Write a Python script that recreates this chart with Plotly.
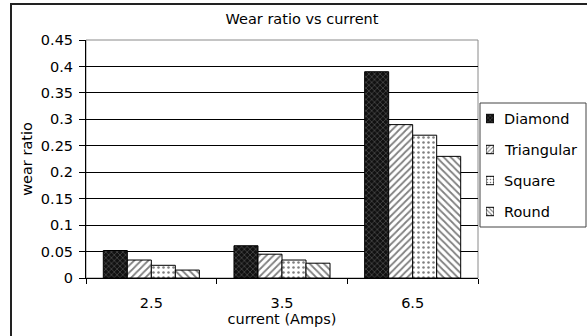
import plotly.graph_objects as go

# Wear ratio by tool shape at each current setting
currents = ["2.5", "3.5", "6.5"]
shape_names = ["Diamond", "Triangular", "Square", "Round"]
diamond = [0.052, 0.061, 0.39]
triangular = [0.034, 0.045, 0.29]
square = [0.024, 0.034, 0.27]
round_ = [0.015, 0.028, 0.23]
y_ticks = [0, 0.05, 0.1, 0.15, 0.2, 0.25, 0.3, 0.35, 0.4, 0.45]
y_tick_text = ["0", "0.05", "0.1", "0.15", "0.2", "0.25", "0.3", "0.35", "0.4", "0.45"]

series = [diamond, triangular, square, round_]
patterns = [
    dict(shape="x", fgcolor="#9a9a9a", bgcolor="#111111", size=4, solidity=0.3),
    dict(shape="/", fgcolor="black", bgcolor="white", size=5, solidity=0.35),
    dict(shape=".", fgcolor="black", bgcolor="white", size=5, solidity=0.2),
    dict(shape="\\", fgcolor="black", bgcolor="white", size=5, solidity=0.35),
]

FONT = "DejaVu Sans, Arial, sans-serif"
FS = 14.5

W, H = 587, 336
ML, MT, MB = 86, 40, 58
PW = W - ML            # paper width (right margin 0)
PLOT_R = 478           # right edge of the bar plot area, px
LEG_L, LEG_R, LEG_T, LEG_B = 480, 586, 103, 227


def px_x(px):
    return (px - ML) / PW


def px_y(py):
    return (H - MB - py) / (H - MT - MB)


fig = go.Figure()
for name, vals, pat in zip(shape_names, series, patterns):
    fig.add_trace(go.Bar(
        x=currents, y=vals, name=name, showlegend=False,
        marker=dict(color="white", pattern=pat,
                    line=dict(color="black", width=1)),
        xaxis="x", yaxis="y",
    ))

# legend key swatches: one small patterned bar per series on a helper axis
for name, pat in zip(shape_names, patterns):
    fig.add_trace(go.Bar(
        y=[name], x=[1], orientation="h", width=0.27, offset=-0.135,
        marker=dict(color="white", pattern=dict(pat, size=3),
                    line=dict(color="black", width=1)),
        showlegend=False, hoverinfo="skip", xaxis="x2", yaxis="y2",
    ))

fig.update_layout(
    width=W, height=H,
    margin=dict(l=ML, r=0, t=MT, b=MB, autoexpand=False),
    paper_bgcolor="white", plot_bgcolor="white",
    barmode="group", bargap=0.265, bargroupgap=0,
    font=dict(family=FONT, size=FS, color="black"),
    showlegend=False,
    title=dict(text="Wear ratio vs current", xref="container", x=302 / W,
               xanchor="center", yref="container", y=1 - 19 / H,
               yanchor="middle", font=dict(size=FS)),
    xaxis=dict(
        domain=[0, px_x(PLOT_R)],
        type="category", showline=True, linecolor="black", linewidth=1,
        ticks="outside", tickson="boundaries", ticklen=5, tickcolor="black",
        showgrid=False, ticklabelstandoff=12,
        title=dict(text="current (Amps)", standoff=3, font=dict(size=FS)),
        tickfont=dict(size=FS),
    ),
    yaxis=dict(
        range=[0, 0.45], tickvals=y_ticks, ticktext=y_tick_text,
        showline=True, linecolor="black", linewidth=1,
        ticks="outside", ticklen=6, tickcolor="black", ticklabelstandoff=3,
        showgrid=True, gridcolor="black", gridwidth=1, zeroline=False,
        title=dict(text="wear ratio", standoff=4, font=dict(size=FS)),
        tickfont=dict(size=FS),
    ),
    xaxis2=dict(
        domain=[px_x(486), px_x(494)], range=[0, 1], anchor="y2",
        visible=False, fixedrange=True,
    ),
    yaxis2=dict(
        domain=[px_y(LEG_B), px_y(LEG_T)], anchor="x2", type="category",
        categoryorder="array", categoryarray=shape_names[::-1],
        range=[-0.5, 3.5], visible=False, fixedrange=True,
    ),
)

# plot-area border
fig.add_shape(type="rect", xref="x domain", yref="y domain",
              x0=0, x1=1, y0=0, y1=1,
              line=dict(color="#8a8a8a", width=1), layer="below")
# legend box
fig.add_shape(type="rect", xref="paper", yref="paper",
              x0=px_x(LEG_L), x1=px_x(LEG_R), y0=px_y(LEG_B), y1=px_y(LEG_T),
              line=dict(color="#444444", width=1), fillcolor="white",
              layer="below")
# legend labels
for i, name in enumerate(shape_names):
    cy = LEG_T + (LEG_B - LEG_T) * (i + 0.5) / len(shape_names)
    fig.add_annotation(text=name, xref="paper", yref="paper",
                       x=px_x(502), y=px_y(cy), xanchor="left",
                       yanchor="middle", showarrow=False,
                       font=dict(size=FS))
# outer chart frame
fig.add_shape(type="rect", xref="paper", yref="paper",
              x0=px_x(11), x1=px_x(600), y0=px_y(350), y1=px_y(4),
              line=dict(color="#222222", width=2))

fig.write_html("out.html")
